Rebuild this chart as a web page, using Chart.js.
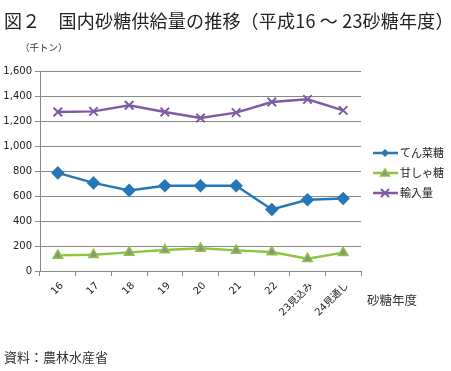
<!DOCTYPE html>
<html>
<head>
<meta charset="utf-8">
<script src="https://cdn.jsdelivr.net/npm/chart.js@4"></script>
<style>
  body { margin: 0; background: #fff; width: 451px; height: 371px; position: relative; overflow: hidden;
         font-family: "Noto Sans CJK JP", sans-serif; color: #222; }
  #wrap { position: absolute; left: 0; top: 0; width: 451px; height: 371px; }
  .txt { position: absolute; white-space: nowrap; }
  #title { left: 4px; top: 7px; font-size: 18px; letter-spacing: 0.2px; }
  #unit { left: 20px; top: 40px; font-size: 9.5px; color: #333; }
  #xtitle { left: 367px; top: 290px; font-size: 12.5px; color: #333; }
  #source { left: 4px; top: 347px; font-size: 13px; color: #333; }
</style>
</head>
<body>
<div id="wrap"><canvas id="chart" width="451" height="371"></canvas></div>
<div class="txt" id="title">図２　国内砂糖供給量の推移（平成16 ～ 23砂糖年度）</div>
<div class="txt" id="unit">（千トン）</div>
<div class="txt" id="xtitle">砂糖年度</div>
<div class="txt" id="source">資料：農林水産省</div>
<script>
// DATA
const years = ["16", "17", "18", "19", "20", "21", "22", "23見込み", "24見通し"];
const beet = [785, 705, 645, 682, 682, 682, 492, 570, 580];
const cane = [125, 130, 149, 168, 181, 165, 152, 99, 147];
const imports = [1272, 1277, 1326, 1272, 1224, 1267, 1352, 1373, 1285];
const yTicks = [0, 200, 400, 600, 800, 1000, 1200, 1400, 1600];

const BLUE = "#2677b8";
const GREEN = "#8cc63f";
const PURPLE = "#7f5ba3";

// LEGEND drawn at right side
const sideLegend = {
  id: "sideLegend",
  afterDraw(chart) {
    const c = chart.ctx;
    const ys = [153, 173, 193];
    chart.data.datasets.forEach((ds, i) => {
      const y = ys[i];
      c.save();
      c.strokeStyle = ds.borderColor;
      c.lineWidth = 2.5;
      c.beginPath();
      c.moveTo(373, y);
      c.lineTo(398, y);
      c.stroke();
      // marker
      c.fillStyle = ds.pointBackgroundColor;
      c.strokeStyle = ds.pointBorderColor;
      c.lineWidth = 1.5;
      const x = 385;
      c.beginPath();
      if (ds.pointStyle === "rectRot") {
        c.moveTo(x, y - 4); c.lineTo(x + 4, y); c.lineTo(x, y + 4); c.lineTo(x - 4, y); c.closePath();
        c.fill();
      } else if (ds.pointStyle === "triangle") {
        c.moveTo(x, y - 4); c.lineTo(x + 4.5, y + 3); c.lineTo(x - 4.5, y + 3); c.closePath();
        c.fill(); c.stroke();
      } else {
        c.lineWidth = 2;
        c.moveTo(x - 4, y - 4); c.lineTo(x + 4, y + 4);
        c.moveTo(x + 4, y - 4); c.lineTo(x - 4, y + 4);
        c.stroke();
      }
      c.fillStyle = "#222";
      c.font = "11px 'Noto Sans CJK JP'";
      c.textBaseline = "middle";
      c.fillText(ds.label, 400, y);
      c.restore();
    });
  }
};

const ctx = document.getElementById("chart").getContext("2d");
const chart = new Chart(ctx, {
  type: "line",
  data: {
    labels: years,
    datasets: [
      {
        label: "てん菜糖",
        data: beet,
        borderColor: BLUE,
        backgroundColor: BLUE,
        pointStyle: "rectRot",
        pointRadius: 5,
        pointBackgroundColor: BLUE,
        pointBorderColor: BLUE,
        borderWidth: 2.5
      },
      {
        label: "甘しゃ糖",
        data: cane,
        borderColor: GREEN,
        backgroundColor: GREEN,
        pointStyle: "triangle",
        pointRadius: 5.5,
        pointBackgroundColor: "#8e8e8e",
        pointBorderColor: GREEN,
        pointBorderWidth: 1.5,
        borderWidth: 2.5
      },
      {
        label: "輸入量",
        data: imports,
        borderColor: PURPLE,
        backgroundColor: PURPLE,
        pointStyle: "crossRot",
        pointRadius: 6,
        pointBackgroundColor: PURPLE,
        pointBorderColor: PURPLE,
        pointBorderWidth: 2,
        borderWidth: 2.5
      }
    ]
  },
  options: {
    responsive: false,
    animation: false,
    layout: { padding: { left: 0, top: 71, right: 90, bottom: 40 } },
    plugins: {
      legend: { display: false },
      tooltip: { enabled: false }
    },
    scales: {
      x: {
        offset: true,
        grid: { display: true, drawOnChartArea: false, drawTicks: true, tickLength: 5, color: "#888", offset: true },
        border: { color: "#888", width: 1 },
        ticks: {
          minRotation: 45, maxRotation: 45, autoSkip: false,
          labelOffset: 4,
          padding: 4,
          color: "#222",
          font: { family: "'DejaVu Sans', 'Noto Sans CJK JP'", size: 10 }
        },
        afterFit(scale) { scale.height = 60; }
      },
      y: {
        min: 0, max: 1600,
        afterBuildTicks(scale) { scale.ticks = yTicks.map((v) => ({ value: v })); },
        grid: { color: "#888", lineWidth: 1, tickLength: 5, drawTicks: true },
        border: { color: "#888", width: 1 },
        ticks: {
          color: "#222",
          padding: 3,
          font: { family: "'DejaVu Sans'", size: 10 },
          callback: (v) => v.toLocaleString("en-US")
        },
        afterFit(scale) { scale.width = 40; }
      }
    }
  },
  plugins: [sideLegend]
});
</script>
</body>
</html>
